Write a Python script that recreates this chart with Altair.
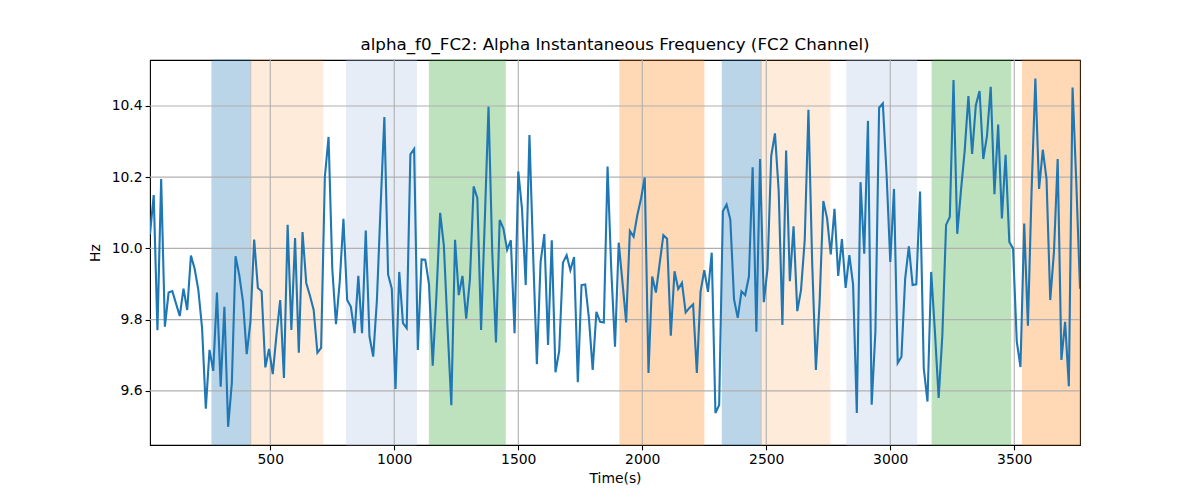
import altair as alt
import pandas as pd

# ---- data ----
t_start = 15
t_step = 15
freq = [
    10.04, 10.15, 9.77, 10.195, 9.78, 9.876, 9.88, 9.845, 9.81, 9.887,
    9.827, 9.98, 9.943, 9.883, 9.776, 9.55, 9.715, 9.656, 9.876, 9.612,
    9.836, 9.499, 9.622, 9.978, 9.925, 9.85, 9.703, 9.794, 10.025, 9.889,
    9.88, 9.666, 9.718, 9.647, 9.757, 9.855, 9.636, 10.066, 9.771, 10.029,
    9.707, 10.046, 9.903, 9.867, 9.827, 9.707, 9.721, 10.2, 10.313, 9.943,
    9.787, 9.906, 10.083, 9.855, 9.836, 9.762, 9.923, 9.762, 10.05, 9.752,
    9.696, 9.855, 10.12, 10.369, 9.927, 9.887, 9.605, 9.934, 9.79, 9.776,
    10.264, 10.279, 9.715, 9.969, 9.968, 9.899, 9.671, 9.869, 10.1, 10.007,
    9.776, 9.56, 10.024, 9.869, 9.923, 9.803, 9.913, 10.174, 10.141, 9.771,
    10.08, 10.398, 9.99, 9.736, 10.08, 10.056, 9.996, 10.023, 9.762, 10.216,
    10.111, 9.897, 10.318, 9.981, 9.675, 9.962, 10.04, 9.729, 10.023, 9.652,
    9.712, 9.96, 9.981, 9.939, 9.976, 9.624, 9.897, 9.899, 9.803, 9.659,
    9.822, 9.794, 9.792, 10.23, 9.939, 9.724, 10.016, 9.906, 9.792, 10.049,
    10.033, 10.093, 10.14, 10.199, 9.65, 9.921, 9.876, 9.957, 10.037, 10.027,
    9.755, 9.936, 9.886, 9.903, 9.82, 9.833, 9.843, 9.65, 9.879, 9.939,
    9.878, 9.988, 9.538, 9.56, 10.104, 10.123, 10.081, 9.857, 9.805, 9.879,
    9.869, 9.921, 10.228, 9.766, 10.251, 9.849, 9.943, 10.26, 10.323, 10.162,
    9.785, 10.275, 9.908, 10.062, 9.824, 9.883, 10.023, 10.389, 9.962, 9.659,
    9.85, 10.133, 10.085, 9.983, 10.111, 9.923, 10.026, 9.889, 9.981, 9.899,
    9.538, 10.186, 9.985, 10.358, 9.561, 9.766, 10.395, 10.407, 10.209, 9.962,
    10.167, 9.678, 9.696, 9.915, 10.006, 9.897, 9.899, 10.16, 9.664, 9.57,
    9.934, 9.766, 9.58, 9.757, 10.066, 10.088, 10.473, 10.041, 10.162, 10.274,
    10.428, 10.265, 10.402, 10.442, 10.251, 10.316, 10.454, 10.152, 10.348, 10.084,
    10.263, 10.018, 10.0, 9.739, 9.667, 10.07, 9.783, 10.167, 10.477, 10.167,
    10.277, 10.195, 9.855, 9.99, 10.251, 9.687, 9.794, 9.613, 10.452, 10.186,
    9.887,
]
times = [t_start + t_step * i for i in range(len(freq))]

band_start = [265, 421, 808, 1142, 1910, 2323, 2479, 2825, 3169, 3534]
band_end = [421, 711, 1089, 1447, 2248, 2479, 2756, 3106, 3485, 3765]
band_kind = ["blue", "peach", "lightblue", "green", "orange",
             "blue", "peach", "lightblue", "green", "orange"]

kind_color = {"blue": "#1f77b4", "peach": "#ff7f0e", "lightblue": "#aec7e8",
              "green": "#2ca02c", "orange": "#ff7f0e"}
kind_opacity = {"blue": 0.3, "peach": 0.15, "lightblue": 0.3,
                "green": 0.3, "orange": 0.3}

x_ticks = [500, 1000, 1500, 2000, 2500, 3000, 3500]
y_ticks = [9.6, 9.8, 10.0, 10.2, 10.4]

x_domain = [15, 3765]
y_domain = [9.448, 10.529]

# ---- tables ----
line_df = pd.DataFrame({"t": times, "f": freq})
band_df = pd.DataFrame({
    "s": band_start, "e": band_end, "kind": band_kind,
    "col": [kind_color[k] for k in band_kind],
    "op": [kind_opacity[k] for k in band_kind],
})
xt_df = pd.DataFrame({"t": x_ticks})
yt_df = pd.DataFrame({"f": y_ticks})

xscale = alt.Scale(domain=x_domain, nice=False, zero=False)
yscale = alt.Scale(domain=y_domain, nice=False, zero=False)
xaxis = alt.Axis(values=x_ticks, grid=False, format="d", titlePadding=5)
yaxis = alt.Axis(values=y_ticks, grid=False, format=".1f", titlePadding=9)

bands = alt.Chart(band_df).mark_rect(strokeWidth=1.2).encode(
    x=alt.X("s:Q", scale=xscale, axis=xaxis, title="Time(s)"),
    x2="e:Q",
    color=alt.Color("col:N", scale=None),
    stroke=alt.Stroke("col:N", scale=None),
    opacity=alt.Opacity("op:Q", scale=None),
)

xgrid = alt.Chart(xt_df).mark_rule(color="#b0b0b0", strokeWidth=1.1).encode(
    x=alt.X("t:Q", scale=xscale, axis=xaxis, title="Time(s)")
)
ygrid = alt.Chart(yt_df).mark_rule(color="#b0b0b0", strokeWidth=1.1).encode(
    y=alt.Y("f:Q", scale=yscale, axis=yaxis, title="Hz")
)

line = alt.Chart(line_df).mark_line(color="#1f77b4", strokeWidth=2.1, clip=True).encode(
    x=alt.X("t:Q", scale=xscale, axis=xaxis, title="Time(s)"),
    y=alt.Y("f:Q", scale=yscale, axis=yaxis, title="Hz"),
)

chart = alt.layer(bands, xgrid, ygrid, line).properties(
    width=930,
    height=385,
    padding={"left": 142, "top": 52, "right": 110, "bottom": 47},
    autosize=alt.AutoSizeParams(type="none"),
    title=alt.TitleParams(
        "alpha_f0_FC2: Alpha Instantaneous Frequency (FC2 Channel)",
        font="DejaVu Sans", fontSize=16.7, fontWeight="normal", color="black",
        anchor="middle", offset=6,
    ),
).configure(
    background="white"
).configure_view(
    stroke="black", strokeWidth=1.1
).configure_axis(
    domain=False,
    tickColor="black", tickSize=4.9, tickWidth=1.1,
    labelFont="DejaVu Sans", labelFontSize=13.9, labelColor="black", labelPadding=3,
    titleFont="DejaVu Sans", titleFontSize=13.9, titleColor="black", titleFontWeight="normal",
)

chart.save("out.html", embed_options={"renderer": "svg", "actions": False})
